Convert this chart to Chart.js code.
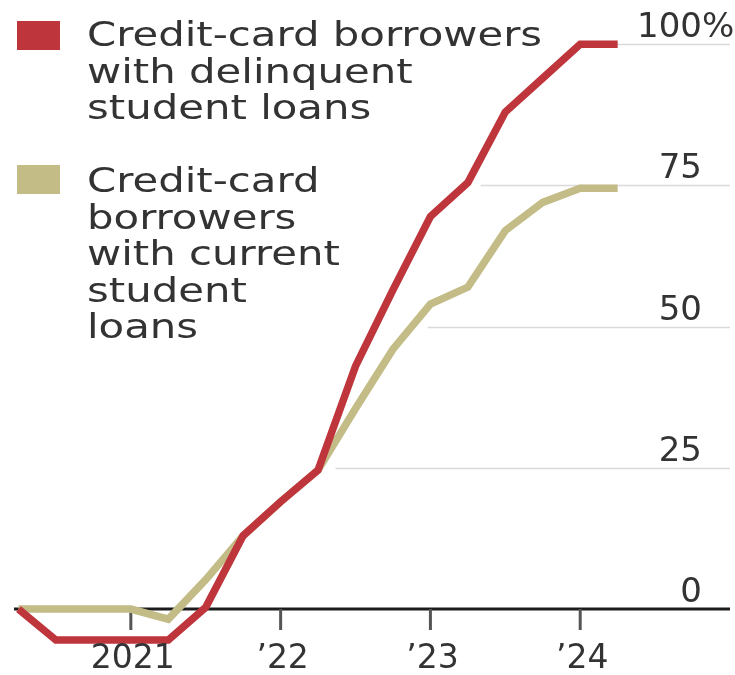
<!DOCTYPE html>
<html>
<head>
<meta charset="utf-8">
<script src="https://cdn.jsdelivr.net/npm/chart.js@4.4.1/dist/chart.umd.min.js"></script>
<style>
  html, body { margin: 0; padding: 0; background: #fff; }
  #wrap { position: relative; width: 735px; height: 675px; overflow: hidden; }
  #chart { position: absolute; left: 0; top: 0; }
  .legend { position: absolute; left: 17px; top: 0; font-family: 'DejaVu Sans', sans-serif; font-size: 34px; line-height: 36.5px; color: #333; }
  .legend .item { position: absolute; left: 0; padding-left: 70px; white-space: nowrap; }
  .legend .swatch { position: absolute; left: 0; top: 3px; width: 43px; height: 29px; }
  .legend .text { display: inline-block; transform: scaleX(1.23); transform-origin: 0 0; }
</style>
</head>
<body>
<div id="wrap">
  <canvas id="chart" width="735" height="675"></canvas>
  <div class="legend" id="legend"></div>
</div>
<script>
// quarter start dates, Q2 2020 .. Q2 2024
const quarters = [2020.25, 2020.5, 2020.75, 2021.0, 2021.25, 2021.5, 2021.75, 2022.0, 2022.25,
                  2022.5, 2022.75, 2023.0, 2023.25, 2023.5, 2023.75, 2024.0, 2024.25];
const delinquent = [0, -5.5, -5.5, -5.5, -5.5, 0.3, 13, 19, 24.6, 43, 56.5, 69.5, 75.5, 88, 94, 100, 100];
const current = [0, 0, 0, 0, -1.8, 5.2, 13, 19, 24.6, 35.5, 46, 54, 57, 67, 72, 74.5, 74.5];

const seriesNames = [
  ['Credit-card borrowers', 'with delinquent', 'student loans'],
  ['Credit-card', 'borrowers', 'with current', 'student', 'loans']
];
const seriesColors = ['#be353c', '#c3bc87'];

const yTicks = [0, 25, 50, 75, 100];
const yTickLabels = ['0', '25', '50', '75', '100'];
const xTicks = [2021, 2022, 2023, 2024];
const xTickLabels = ['2021', '\u201922', '\u201923', '\u201924'];

// legend as html text blocks
const legendEl = document.getElementById('legend');
const legendTops = [16, 162];
seriesNames.forEach((lines, i) => {
  const item = document.createElement('div');
  item.className = 'item';
  item.style.top = legendTops[i] + 'px';
  const sw = document.createElement('div');
  sw.className = 'swatch';
  sw.style.background = seriesColors[i];
  sw.style.top = (i === 0 ? 5 : 3) + 'px';
  item.appendChild(sw);
  const txt = document.createElement('span');
  txt.className = 'text';
  txt.innerHTML = lines.join('<br>');
  item.appendChild(txt);
  legendEl.appendChild(item);
});

// x where the last line climbs through a value; gridlines start just after it
function crossingX(chart, v) {
  const xs = chart.scales.x;
  let best = chart.chartArea.left;
  chart.data.datasets.forEach(ds => {
    for (let i = 1; i < ds.data.length; i++) {
      const a = ds.data[i - 1], b = ds.data[i];
      if (a.y < v && b.y >= v) {
        const t = (v - a.y) / (b.y - a.y);
        best = Math.max(best, xs.getPixelForValue(a.x + t * (b.x - a.x)));
      }
    }
  });
  return best;
}

const axesPlugin = {
  id: 'wsjAxes',
  beforeDatasetsDraw(chart) {
    const { ctx, chartArea, scales: { x, y } } = chart;
    ctx.save();
    // partial gridlines
    ctx.strokeStyle = '#dadada';
    ctx.lineWidth = 1.5;
    yTicks.forEach(v => {
      if (v === 0) return;
      const py = Math.round(y.getPixelForValue(v)) + 0.5;
      const x0 = crossingX(chart, v) + 16;
      ctx.beginPath();
      ctx.moveTo(x0, py);
      ctx.lineTo(chartArea.right, py);
      ctx.stroke();
    });
    // zero baseline
    const y0 = y.getPixelForValue(0);
    ctx.strokeStyle = '#1c1c1c';
    ctx.lineWidth = 3;
    ctx.beginPath();
    ctx.moveTo(chartArea.left, y0);
    ctx.lineTo(chartArea.right, y0);
    ctx.stroke();
    // year ticks
    ctx.strokeStyle = '#555';
    ctx.lineWidth = 3;
    xTicks.forEach(v => {
      const px = x.getPixelForValue(v);
      ctx.beginPath();
      ctx.moveTo(px, y0);
      ctx.lineTo(px, y0 + 21);
      ctx.stroke();
    });
    ctx.restore();
  },
  afterDraw(chart) {
    const { ctx, chartArea, scales: { x, y } } = chart;
    ctx.save();
    ctx.fillStyle = '#333';
    // value labels sit above their gridlines, numbers right-aligned, % hanging
    ctx.font = '34px "DejaVu Sans"';
    ctx.textBaseline = 'alphabetic';
    const labelRight = chartArea.right - 28;
    yTicks.forEach((v, i) => {
      const py = y.getPixelForValue(v) - 7;
      ctx.textAlign = 'right';
      ctx.fillText(yTickLabels[i], labelRight, py);
      if (v === 100) {
        ctx.textAlign = 'left';
        ctx.fillText('%', labelRight, py);
      }
    });
    // year labels
    ctx.font = '33px "DejaVu Sans"';
    ctx.textAlign = 'center';
    const y0 = y.getPixelForValue(0);
    xTicks.forEach((v, i) => {
      ctx.fillText(xTickLabels[i], x.getPixelForValue(v) + 2, y0 + 59);
    });
    ctx.restore();
  }
};

const ctx = document.getElementById('chart').getContext('2d');
new Chart(ctx, {
  type: 'line',
  data: {
    datasets: [
      {
        label: seriesNames[0].join(' '),
        data: quarters.map((q, i) => ({ x: q, y: delinquent[i] })),
        borderColor: seriesColors[0],
        borderWidth: 7.5,
        pointRadius: 0,
        tension: 0,
        clip: false
      },
      {
        label: seriesNames[1].join(' '),
        data: quarters.map((q, i) => ({ x: q, y: current[i] })),
        borderColor: seriesColors[1],
        borderWidth: 7.5,
        pointRadius: 0,
        tension: 0,
        clip: false
      }
    ]
  },
  options: {
    responsive: false,
    animation: false,
    devicePixelRatio: 1,
    layout: { padding: { left: 14, right: 5, top: 16, bottom: 9.5 } },
    plugins: { legend: { display: false }, tooltip: { enabled: false } },
    scales: {
      x: { type: 'linear', display: false, min: 2020.22, max: 2025 },
      y: { display: false, min: -10, max: 105 }
    }
  },
  plugins: [axesPlugin]
});
</script>
</body>
</html>
